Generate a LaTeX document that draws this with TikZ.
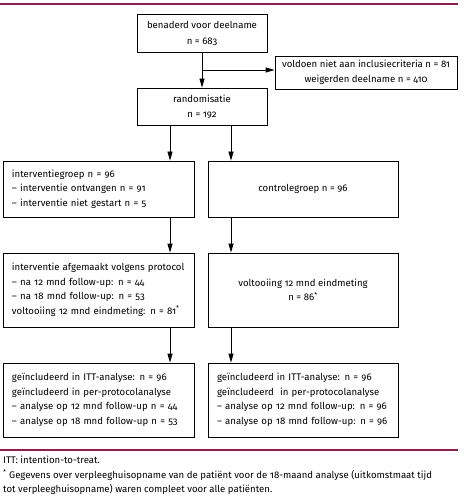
\documentclass[tikz,border=0pt]{standalone}
\usepackage{fontspec}
\setmainfont[Numbers=OldStyle]{Fira Sans}
\usetikzlibrary{arrows.meta}
\definecolor{rule}{RGB}{140,30,80}
\begin{document}
\begin{tikzpicture}[x=1pt,y=-1pt,
  box/.style={draw,line width=0.8pt,inner sep=0pt,font=\fontsize{9.6}{14.5}\selectfont},
  cbox/.style={box,align=center},
  lbox/.style={box,align=left,text width=#1,inner xsep=9pt},
  arr/.style={line width=0.8pt,-{Triangle[length=9pt,width=5pt]}},
  foot/.style={font=\fontsize{9.6}{14.3}\selectfont,align=left,inner sep=0pt,anchor=base west}]
\useasboundingbox (0,0) rectangle (466,502);
\draw[rule,line width=1.2pt] (0,4) -- (458,4);
\draw[rule,line width=1.2pt] (0,450) -- (458,450);
\node[cbox,minimum width=130pt,minimum height=38pt,font=\fontsize{9.6}{16}\selectfont] (b1) at (202,33) {benaderd voor deelname\\n = 683};
\node[cbox,minimum width=182pt,minimum height=33pt,font=\fontsize{9.6}{15}\selectfont] (b3) at (366,72.5) {voldoen niet aan inclusiecriteria n = 81\\weigerden deelname n = 410};
\node[cbox,minimum width=130pt,minimum height=37pt,font=\fontsize{9.6}{15}\selectfont] (b2) at (202,106.5) {randomisatie\\n = 192};
\node[lbox=173pt,minimum height=56pt] (b4) at (98.5,189) {interventiegroep n = 96\\– interventie ontvangen n = 91\\– interventie niet gestart n = 5};
\node[cbox,minimum width=190pt,minimum height=56pt] (b5) at (303,189) {controlegroep n = 96};
\node[lbox=173pt,minimum height=74pt] (b6) at (98.5,290) {interventie afgemaakt volgens protocol\\– na 12 mnd follow-up: n = 44\\– na 18 mnd follow-up: n = 53\\voltooiing 12 mnd eindmeting: n = 81\textsuperscript{*}};
\node[cbox,minimum width=190pt,minimum height=74pt] (b7) at (303,290) {voltooiing 12 mnd eindmeting\\n = 86\textsuperscript{*}};
\node[lbox=173pt,minimum height=74pt] (b8) at (98.5,400) {geïncludeerd in ITT-analyse: n = 96\\geïncludeerd in per-protocolanalyse\\– analyse op 12 mnd follow-up n = 44\\– analyse op 18 mnd follow-up n = 53};
\node[lbox=172pt,minimum height=74pt] (b9) at (303,400) {geïncludeerd in ITT-analyse: n = 96\\geïncludeerd \ in per-protocolanalyse\\– analyse op 12 mnd follow-up: n = 96\\– analyse op 18 mnd follow-up: n = 96};
\coordinate (xa) at (202,0);
\coordinate (xl) at (170,0);
\coordinate (xr) at (231,0);
\coordinate (br) at (202,70);
\draw[arr] (b1.south) -- (b2.north);
\draw[arr] (br) -- (br -| b3.west);
\draw[arr] (b2.south -| xl) -- (b4.north -| xl);
\draw[arr] (b2.south -| xr) -- (b5.north -| xr);
\draw[arr] (b4.south -| xl) -- (b6.north -| xl);
\draw[arr] (b5.south -| xr) -- (b7.north -| xr);
\draw[arr] (b6.south -| xl) -- (b8.north -| xl);
\draw[arr] (b7.south -| xr) -- (b9.north -| xr);
\node[foot] (f1) at (3,463) {ITT: intention-to-treat.};
\node[foot] (f2) at (3,478) {\textsuperscript{*} Gegevens over verpleeghuisopname van de patiënt voor de 18-maand analyse (uitkomstmaat tijd};
\node[foot] (f3) at (3,492) {tot verpleeghuisopname) waren compleet voor alle patiënten.};
\end{tikzpicture}
\end{document}
